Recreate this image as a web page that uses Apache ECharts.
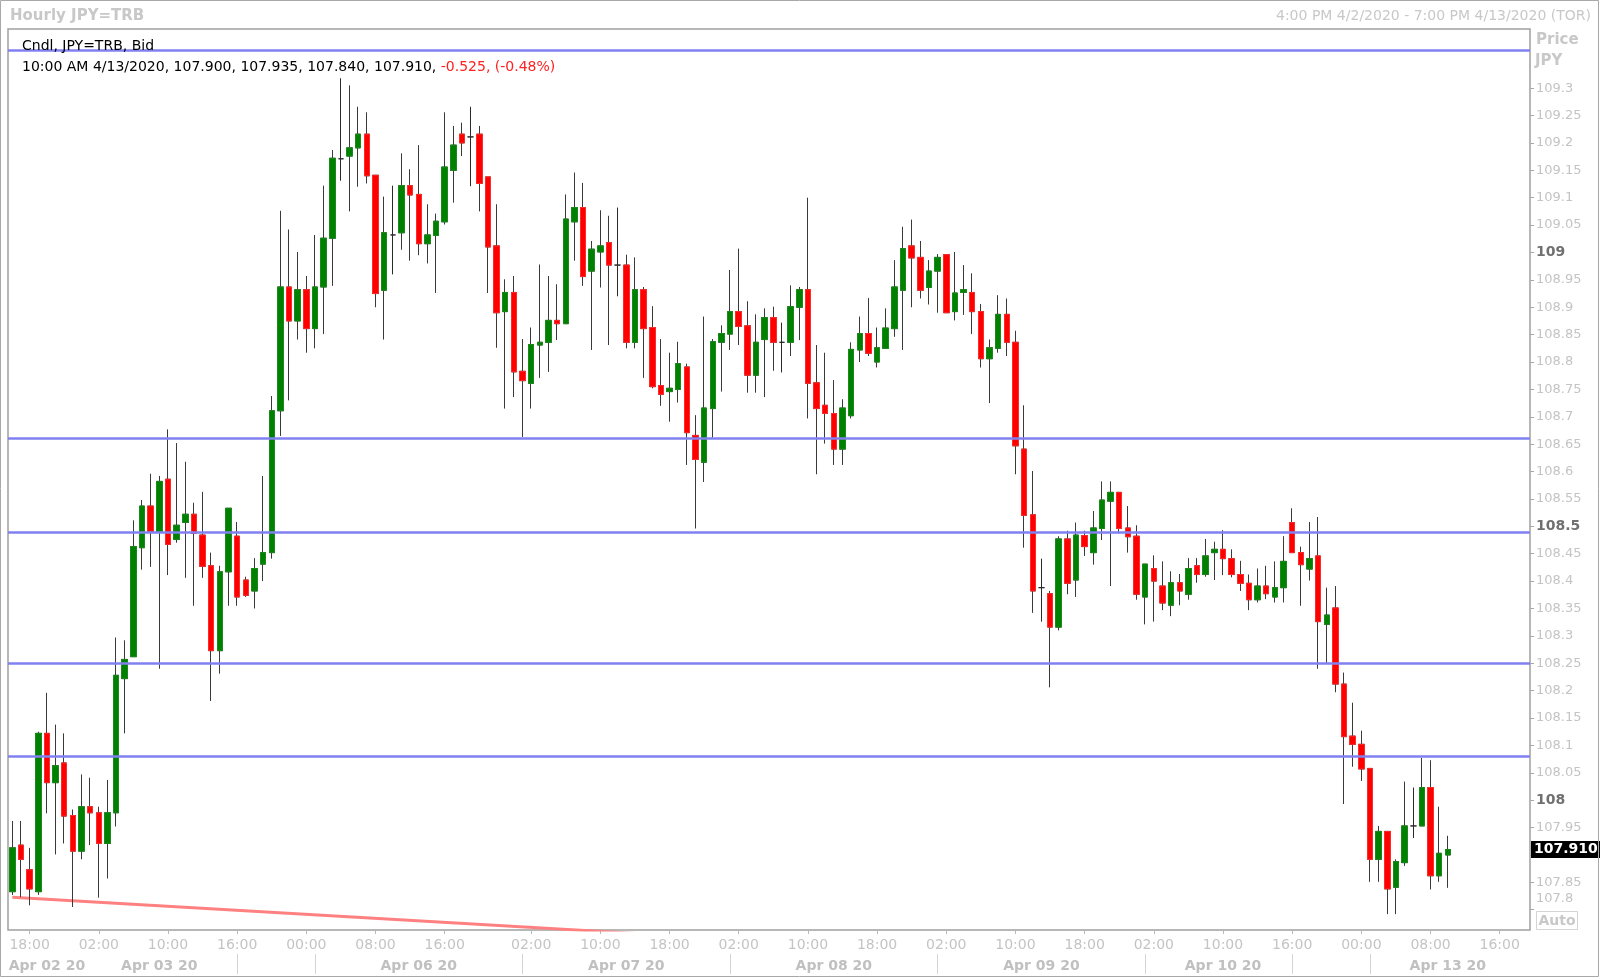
<!DOCTYPE html>
<html><head><meta charset="utf-8">
<script src="https://cdn.jsdelivr.net/npm/echarts@6/dist/echarts.min.js"></script>
<style>html,body{margin:0;padding:0;background:#fff}#c{width:1600px;height:978px}</style>
</head><body><div id="c"></div>
<script>
const FONT = '"DejaVu Sans",Tahoma,Verdana,sans-serif';
const slotCount = 176; // hourly slots, 4:00 PM 4/2/2020 .. 7:00 PM 4/13/2020

const opens = [107.833,107.918,107.873,107.833,108.122,108.032,108.068,107.972,107.907,107.988,
107.977,107.921,107.977,108.222,108.262,108.461,108.537,108.491,108.586,108.476,
108.507,108.522,108.484,108.428,108.273,108.417,108.482,108.402,108.382,108.431,
108.452,108.711,108.937,108.875,108.932,108.861,108.937,109.026,109.171,109.176,
109.191,109.216,109.141,108.931,109.032,109.036,109.122,109.106,109.016,109.031,
109.056,109.150,109.216,109.211,109.216,109.138,109.012,108.892,108.927,108.783,
108.761,108.831,108.836,108.876,108.870,109.056,109.082,108.966,109.001,109.018,
108.977,108.977,108.836,108.932,108.863,108.757,108.746,108.750,108.791,108.666,
108.617,108.715,108.836,108.851,108.892,108.866,108.776,108.841,108.881,108.836,
108.836,108.900,108.932,108.762,108.721,108.706,108.641,108.702,108.822,108.852,
108.800,108.825,108.861,108.931,109.012,108.991,108.936,108.966,108.996,108.892,
108.927,108.927,108.892,108.806,108.825,108.887,108.836,108.641,108.521,108.388,
108.377,108.316,108.477,108.402,108.483,108.452,108.496,108.546,108.562,108.497,
108.482,108.371,108.423,108.391,108.356,108.397,108.376,108.428,108.412,108.452,
108.458,108.441,108.412,108.396,108.366,108.391,108.371,108.388,108.507,108.452,
108.422,108.446,108.321,108.351,108.212,108.117,108.102,108.058,107.892,107.943,
107.841,107.886,107.953,107.953,108.023,107.862,107.900];

const highs = [107.962,107.962,107.913,108.125,108.196,108.138,108.122,107.983,108.047,108.041,
107.988,108.037,108.297,108.292,108.511,108.548,108.596,108.592,108.677,108.652,
108.618,108.543,108.563,108.452,108.428,108.533,108.508,108.408,108.442,108.592,
108.738,109.076,109.042,109.001,108.957,109.032,109.122,109.187,109.318,109.305,
109.266,109.256,109.141,109.102,109.122,109.181,109.152,109.196,109.088,109.071,
109.256,109.231,109.237,109.266,109.231,109.138,109.088,108.951,108.957,108.842,
108.863,108.978,108.957,108.942,109.106,109.146,109.127,109.021,109.077,109.067,
109.082,108.996,108.991,108.937,108.902,108.842,108.817,108.837,108.797,108.703,
108.883,108.842,108.867,108.968,109.007,108.911,108.887,108.898,108.901,108.872,
108.940,108.937,109.100,108.831,108.817,108.767,108.732,108.836,108.883,108.917,
108.863,108.898,108.986,109.047,109.060,109.021,108.986,108.997,108.996,109.001,
108.977,108.962,108.906,108.841,108.922,108.916,108.857,108.721,108.601,108.441,
108.382,108.482,108.492,108.507,108.492,108.528,108.582,108.582,108.562,108.537,
108.502,108.431,108.447,108.436,108.418,108.413,108.442,108.442,108.477,108.472,
108.493,108.458,108.437,108.412,108.423,108.428,108.436,108.482,108.533,108.463,
108.508,108.517,108.388,108.391,108.233,108.178,108.127,108.058,107.953,107.943,
107.892,108.034,108.023,108.077,108.073,107.988,107.935];

const lows = [107.827,107.823,107.808,107.827,107.976,107.901,107.921,107.805,107.892,107.918,
107.822,107.857,107.952,108.122,108.262,108.421,108.426,108.240,108.411,108.470,
108.406,108.355,108.406,108.181,108.231,108.355,108.355,108.371,108.350,108.400,
108.441,108.665,108.730,108.841,108.817,108.825,108.851,108.939,109.131,109.075,
109.120,109.126,108.900,108.841,108.960,109.005,108.985,108.995,108.980,108.926,
109.051,109.091,109.176,109.121,109.075,108.926,108.826,108.715,108.736,108.663,
108.715,108.771,108.782,108.840,108.870,108.985,108.939,108.822,108.936,108.831,
108.920,108.825,108.825,108.771,108.752,108.720,108.691,108.726,108.612,108.496,
108.581,108.662,108.746,108.822,108.831,108.744,108.744,108.736,108.784,108.781,
108.811,108.840,108.697,108.595,108.651,108.612,108.612,108.697,108.800,108.811,
108.790,108.824,108.846,108.822,108.900,108.916,108.905,108.890,108.890,108.876,
108.886,108.851,108.790,108.725,108.817,108.811,108.595,108.461,108.342,108.326,
108.206,108.310,108.376,108.371,108.446,108.430,108.475,108.391,108.487,108.452,
108.366,108.321,108.326,108.347,108.336,108.356,108.366,108.397,108.408,108.402,
108.411,108.407,108.382,108.347,108.361,108.367,108.361,108.361,108.452,108.355,
108.401,108.240,108.250,108.197,107.993,108.061,108.035,107.851,107.851,107.792,
107.792,107.880,107.931,107.953,107.837,107.851,107.840];

const closes = [107.913,107.892,107.838,108.122,108.032,108.063,107.971,107.907,107.988,107.977,
107.921,107.977,108.228,108.257,108.463,108.537,108.491,108.582,108.467,108.502,
108.522,108.487,108.427,108.273,108.417,108.533,108.371,108.374,108.423,108.452,
108.711,108.937,108.875,108.932,108.861,108.937,109.026,109.172,109.171,109.191,
109.216,109.140,108.925,109.036,109.032,109.122,109.105,109.016,109.032,109.057,
109.156,109.196,109.200,109.211,109.126,109.010,108.890,108.927,108.782,108.766,
108.832,108.836,108.876,108.870,109.061,109.082,108.956,109.006,109.012,108.977,
108.977,108.836,108.932,108.861,108.755,108.741,108.752,108.797,108.671,108.622,
108.716,108.837,108.852,108.892,108.865,108.776,108.836,108.881,108.836,108.836,
108.901,108.932,108.761,108.715,108.706,108.641,108.716,108.823,108.852,108.816,
108.826,108.862,108.937,109.007,108.990,108.931,108.966,108.991,108.890,108.926,
108.932,108.892,108.806,108.826,108.887,108.836,108.647,108.520,108.382,108.388,
108.316,108.477,108.396,108.484,108.463,108.497,108.548,108.562,108.496,108.481,
108.376,108.431,108.400,108.360,108.397,108.382,108.423,108.412,108.446,108.458,
108.441,108.412,108.396,108.366,108.391,108.377,108.388,108.436,108.452,108.430,
108.441,108.326,108.338,108.212,108.116,108.102,108.057,107.892,107.943,107.838,
107.888,107.953,107.953,108.023,107.862,107.903,107.910];

const hourTicks = [[2,'18:00'],[10,'02:00'],[18,'10:00'],[26,'16:00'],[34,'00:00'],[42,'08:00'],
[50,'16:00'],[60,'02:00'],[68,'10:00'],[76,'18:00'],[84,'02:00'],[92,'10:00'],[100,'18:00'],
[108,'02:00'],[116,'10:00'],[124,'18:00'],[132,'02:00'],[140,'10:00'],[148,'16:00'],
[156,'00:00'],[164,'08:00'],[172,'16:00']];
const dateLabels = [[4,'Apr 02 20'],[17,'Apr 03 20'],[47,'Apr 06 20'],[71,'Apr 07 20'],
[95,'Apr 08 20'],[119,'Apr 09 20'],[140,'Apr 10 20'],[166,'Apr 13 20']];
const dateSeparators = [26,35,59,83,107,131,148,157];
const priceTicks = [107.8,107.85,107.9,107.95,108,108.05,108.1,108.15,108.2,108.25,108.3,108.35,
108.4,108.45,108.5,108.55,108.6,108.65,108.7,108.75,108.8,108.85,108.9,108.95,109,109.05,109.1,
109.15,109.2,109.25,109.3];
const boldTicks = [108, 108.5, 109];
const levelLines = [109.371, 108.663, 108.486, 108.25, 108.08];
const trendLine = [[0, 107.823], [175, 107.662]];
const headerChange = '-0.525, (-0.48%)';
const headerTime = '10:00 AM 4/13/2020';

const cats = Array.from({length: slotCount}, (_, i) => String(i));
const hourMap = new Map(hourTicks);
const dateMap = new Map(dateLabels);
const sepSet = new Set(dateSeparators);

const wickData = cats.map((_, i) => i < opens.length ? [opens[i], closes[i], lows[i], highs[i]] : '-');
const bodyData = cats.map((_, i) => i < opens.length ?
  [opens[i], closes[i], Math.min(opens[i], closes[i]), Math.max(opens[i], closes[i])] : '-');
const last = opens.length - 1;

const chart = echarts.init(document.getElementById('c'), null, {renderer: 'canvas'});
const lbl = v => String(Number(v.toFixed(2)));

chart.setOption({
  animation: false,
  backgroundColor: '#fff',
  textStyle: {fontFamily: FONT},
  grid: {left: 8, right: 70, top: 29, bottom: 48, show: true, borderColor: '#a0a0a0', borderWidth: 1.5,
         backgroundColor: '#fff', containLabel: false},
  xAxis: [{
    type: 'category', data: cats, boundaryGap: true,
    axisLine: {show: false},
    axisTick: {show: true, interval: i => hourMap.has(i), alignWithLabel: true, length: 4,
               lineStyle: {color: '#b8b8b8'}},
    axisLabel: {interval: i => hourMap.has(i), formatter: (v, i) => hourMap.get(i) || '',
                color: '#c4c4c4', fontSize: 14, fontFamily: FONT, margin: 8},
    splitLine: {show: false}
  }, {
    type: 'category', data: cats, boundaryGap: true, position: 'bottom', offset: 24,
    axisLine: {show: false},
    axisTick: {show: true, interval: i => sepSet.has(i), alignWithLabel: true, length: 20,
               lineStyle: {color: '#d4d4d4'}},
    axisLabel: {interval: i => dateMap.has(i), formatter: (v, i) => dateMap.get(i) || '',
                color: '#c0c0c0', fontSize: 14, fontWeight: 'bold', fontFamily: FONT, margin: 5},
    splitLine: {show: false}
  }],
  yAxis: {
    type: 'value', position: 'right', min: 107.763, max: 109.408, scale: true,
    splitLine: {show: false}, axisLine: {show: false},
    axisTick: {show: true, customValues: priceTicks, length: 4, lineStyle: {color: '#a8a8a8'}},
    axisLabel: {
      customValues: priceTicks, margin: 6, color: '#c4c4c4', fontSize: 13, fontFamily: FONT,
      formatter: v => {
        const r = Number(v.toFixed(2));
        if (boldTicks.includes(r)) return '{b|' + lbl(v) + '}';
        if (r === 107.8) return '{lo|' + lbl(v) + '}';
        return lbl(v);
      },
      rich: {
        b: {fontWeight: 'bold', color: '#707070', fontSize: 14, fontFamily: FONT},
        lo: {color: '#c4c4c4', fontSize: 13, fontFamily: FONT, padding: [0, 0, 22, 0]}
      }
    }
  },
  series: [{
    type: 'line', data: trendLine, symbol: 'none', silent: true, z: 1,
    lineStyle: {color: '#ff8080', width: 3}
  }, {
    type: 'candlestick', data: wickData, barWidth: 6, z: 2, silent: true,
    itemStyle: {color: '#008000', color0: '#ff0000', borderColor: '#3a3a3a', borderColor0: '#3a3a3a',
                borderColorDoji: '#2a2a2a', borderWidth: 1}
  }, {
    type: 'candlestick', data: bodyData, barWidth: 6, z: 3, silent: true,
    itemStyle: {color: '#008000', color0: '#ff0000', borderColor: '#1a8a1a', borderColor0: '#ff2a2a',
                borderColorDoji: 'rgba(0,0,0,0)', borderWidth: 1},
    markLine: {
      silent: true, symbol: ['none', 'none'], z: 5,
      data: levelLines.map(v => ({yAxis: v, lineStyle: {color: '#8080f0', width: 2.5, type: 'solid'},
                                   label: {show: false}}))
        .concat([{yAxis: closes[last], lineStyle: {color: 'rgba(0,0,0,0)', width: 0},
                  label: {show: true, position: 'end', distance: 1, formatter: closes[last].toFixed(3),
                          backgroundColor: '#000', color: '#fff', fontWeight: 'bold', fontSize: 14,
                          fontFamily: FONT, padding: [2, 3, 1, 3]}}])
    }
  }],
  graphic: [
    {type: 'rect', silent: true, z: 100, shape: {x: 0.5, y: 0.5, width: 1598, height: 976},
     style: {fill: 'none', stroke: '#a8a8a8', lineWidth: 1}},
    {type: 'text', silent: true, x: 10, y: 16, style: {text: 'Hourly JPY=TRB', fill: '#c8c8c8',
     font: 'bold 15px ' + FONT, verticalAlign: 'middle'}},
    {type: 'text', silent: true, x: 1591, y: 16, style: {text: '4:00 PM 4/2/2020 - 7:00 PM 4/13/2020 (TOR)',
     fill: '#c8c8c8', font: '14px ' + FONT, align: 'right', verticalAlign: 'middle'}},
    {type: 'text', silent: true, x: 1536, y: 40, style: {text: 'Price', fill: '#c8c8c8',
     font: 'bold 15px ' + FONT, verticalAlign: 'middle'}},
    {type: 'text', silent: true, x: 1535, y: 61, style: {text: 'JPY', fill: '#c8c8c8',
     font: 'bold 15px ' + FONT, verticalAlign: 'middle'}},
    {type: 'rect', silent: true, shape: {x: 1536.5, y: 911.5, width: 41, height: 18},
     style: {fill: '#fff', stroke: '#d4d4d4', lineWidth: 1}},
    {type: 'text', silent: true, x: 1557, y: 921, style: {text: 'Auto', fill: '#c8c8c8',
     font: 'bold 14px ' + FONT, align: 'center', verticalAlign: 'middle'}},
    {type: 'text', silent: true, z: 50, x: 22, y: 46, style: {text: 'Cndl, JPY=TRB, Bid', fill: '#000',
     font: '14px ' + FONT, verticalAlign: 'middle'}},
    {type: 'text', silent: true, z: 50, x: 22, y: 67, style: {
     text: headerTime + ', ' + [opens[last], highs[last], lows[last], closes[last]].map(v => v.toFixed(3)).join(', ') +
           ', {r|' + headerChange + '}',
     fill: '#000', font: '14px ' + FONT, verticalAlign: 'middle',
     rich: {r: {fill: '#ff2020', color: '#ff2020', font: '14px ' + FONT}}}}
  ]
});
</script>
</body></html>
